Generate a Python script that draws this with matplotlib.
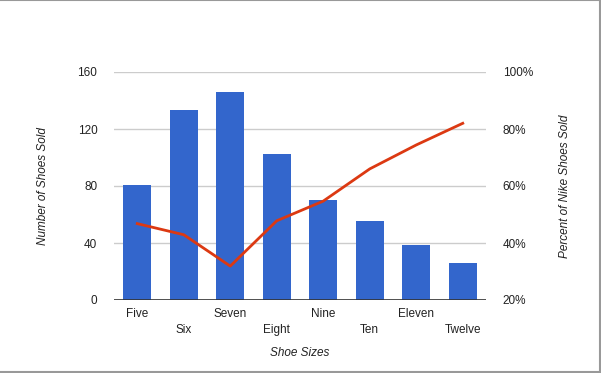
import matplotlib
matplotlib.use("Agg")
import matplotlib.pyplot as plt
from matplotlib.lines import Line2D
import numpy as np

plt.rcParams['font.family'] = ['Liberation Sans', 'DejaVu Sans']

categories = ["Five", "Six", "Seven", "Eight", "Nine", "Ten", "Eleven", "Twelve"]
shoes_sold = [81, 133, 146, 102.5, 70, 55.5, 38.5, 26]
pct_nike = [46.8, 42.9, 31.9, 47.8, 54.7, 66, 74.4, 82]
left_ticks = [0, 40, 80, 120, 160]
right_ticks = [20, 40, 60, 80, 100]

W, H = 601, 373
fig = plt.figure(figsize=(W / 100, H / 100), dpi=100)
ax = fig.add_axes([114 / W, 1 - 300 / H, 372 / W, 228 / H])

x = np.arange(len(categories))
ax.bar(x, shoes_sold, width=0.6, color="#3366CC", zorder=2)
ax.set_xlim(-0.5, len(categories) - 0.5)
ax.set_ylim(0, 160)
ax.set_yticks(left_ticks)
ax.set_yticklabels([str(t) for t in left_ticks])
ax.grid(axis="y", color="#CCCCCC", linewidth=1, zorder=0)
ax.axhline(0, color="#333333", linewidth=1.2, zorder=3)
for s in ax.spines.values():
    s.set_visible(False)
ax.tick_params(axis="both", length=0, labelsize=8.5, colors="#222222")
ax.tick_params(axis="y", pad=12)
ax.set_xticks(x)
ax.set_xticklabels([])
px = 72 / 100
for i, c in enumerate(categories):
    off = -14 if i % 2 == 0 else -30
    ax.annotate(c, xy=(i, 0), xycoords=("data", "axes fraction"),
                xytext=(0, off * px), textcoords="offset points",
                ha="center", va="center", fontsize=8.5, color="#222222")

ax2 = ax.twinx()
ax2.plot(x, pct_nike, color="#DC3912", linewidth=2, zorder=4)
ax2.set_ylim(20, 100)
ax2.set_yticks(right_ticks)
ax2.set_yticklabels([f"{t}%" for t in right_ticks])
for s in ax2.spines.values():
    s.set_visible(False)
ax2.tick_params(axis="y", length=0, labelsize=8.5, colors="#222222", pad=12)

fig.text(43 / W, 1 - 186 / H, "Number of Shoes Sold", rotation=90, style="italic",
         fontsize=8.5, color="#222222", ha="center", va="center")
fig.text(565 / W, 1 - 186 / H, "Percent of Nike Shoes Sold", rotation=90, style="italic",
         fontsize=8.5, color="#222222", ha="center", va="center")
fig.text(300 / W, 1 - 353 / H, "Shoe Sizes", style="italic",
         fontsize=8.5, color="#222222", ha="center", va="center")

# figure border (top, right, bottom)
bc = "#999999"
fig.add_artist(Line2D([0, 1], [0.999, 0.999], color=bc, linewidth=1.5, transform=fig.transFigure))
fig.add_artist(Line2D([0.999, 0.999], [0, 1], color=bc, linewidth=1.5, transform=fig.transFigure))
fig.add_artist(Line2D([0, 1], [0.002, 0.002], color=bc, linewidth=1.5, transform=fig.transFigure))

fig.savefig("out.png", dpi=100)
